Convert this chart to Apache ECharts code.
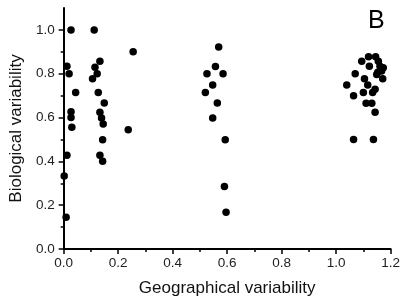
<!DOCTYPE html>
<html>
<head>
<meta charset="utf-8">
<script src="https://cdn.jsdelivr.net/npm/echarts@6/dist/echarts.min.js"></script>
<style>
  html, body { margin: 0; padding: 0; background: #fff; }
  #chart { width: 403px; height: 302px; }
</style>
</head>
<body>
<div id="chart"></div>
<script>
// geographical variability (x) and biological variability (y)
const geoVar = [
  0.027, 0.112, 0.255, 0.012, 0.133, 0.115, 0.020, 0.123, 0.106, 0.044,
  0.127, 0.149, 0.027, 0.133, 0.027, 0.139, 0.145, 0.030, 0.237, 0.143,
  0.012, 0.133, 0.143, 0.002, 0.009,
  0.569, 0.557, 0.526, 0.585, 0.547, 0.520, 0.564, 0.547, 0.593, 0.590, 0.596,
  1.094, 1.119, 1.122, 1.145, 1.155, 1.161, 1.173, 1.167, 1.153, 1.171,
  1.149, 1.070, 1.104, 1.039, 1.116, 1.143, 1.100, 1.134, 1.064, 1.110,
  1.131, 1.143, 1.064, 1.137
];
const bioVar = [
  1.000, 1.000, 0.900, 0.834, 0.857, 0.830, 0.800, 0.800, 0.777, 0.714,
  0.714, 0.666, 0.627, 0.624, 0.600, 0.598, 0.571, 0.556, 0.544, 0.499,
  0.428, 0.428, 0.400, 0.333, 0.145,
  0.922, 0.833, 0.800, 0.800, 0.749, 0.714, 0.666, 0.598, 0.499, 0.285, 0.168,
  0.857, 0.877, 0.834, 0.877, 0.857, 0.834, 0.827, 0.812, 0.807, 0.777,
  0.797, 0.800, 0.777, 0.749, 0.749, 0.729, 0.714, 0.714, 0.699, 0.665,
  0.665, 0.624, 0.500, 0.500
];
const yMajor = [0, 0.2, 0.4, 0.6, 0.8, 1.0];
const yMinor = [0.1, 0.3, 0.5, 0.7, 0.9];

const font = '"Liberation Sans", Arial, sans-serif';
const chart = echarts.init(document.getElementById('chart'));

chart.setOption({
  animation: false,
  title: {
    text: 'B',
    left: 368,
    top: 9,
    padding: 0,
    textStyle: { fontFamily: font, fontSize: 25, fontWeight: 'normal', color: '#000' }
  },
  grid: { left: 63, right: 10, top: 8, bottom: 50 },
  xAxis: {
    type: 'value',
    min: 0,
    max: 1.2,
    interval: 0.2,
    name: 'Geographical variability',
    nameLocation: 'middle',
    nameGap: 31,
    nameTextStyle: { fontFamily: font, fontSize: 17, color: '#111' },
    axisLine: { lineStyle: { color: '#000', width: 2 } },
    axisTick: { length: 5, lineStyle: { color: '#000', width: 1.5 } },
    minorTick: { show: true, splitNumber: 2, length: 3, lineStyle: { color: '#000', width: 1.5 } },
    splitLine: { show: false },
    axisLabel: {
      margin: 7, fontFamily: font, fontSize: 13.5, color: '#222',
      formatter: (v) => v.toFixed(1)
    }
  },
  yAxis: [
    {
      type: 'value',
      min: 0,
      max: 1.1,
      name: 'Biological variability',
      nameLocation: 'middle',
      nameGap: 36,
      nameTextStyle: { fontFamily: font, fontSize: 17, color: '#111' },
      axisLine: { lineStyle: { color: '#000', width: 2 } },
      axisTick: { length: 5, customValues: yMajor, lineStyle: { color: '#000', width: 1.5 } },
      splitLine: { show: false },
      axisLabel: {
        margin: 9, fontFamily: font, fontSize: 13.5, color: '#222',
        customValues: yMajor,
        formatter: (v) => v.toFixed(1)
      }
    },
    {
      type: 'value',
      position: 'left',
      min: 0,
      max: 1.1,
      axisLine: { show: false },
      axisTick: { length: 3, customValues: yMinor, lineStyle: { color: '#000', width: 1.5 } },
      axisLabel: { show: false },
      splitLine: { show: false }
    }
  ],
  series: [{
    type: 'scatter',
    symbolSize: 7.5,
    itemStyle: { color: '#000', opacity: 1 },
    data: geoVar.map((x, i) => [x, bioVar[i]])
  }]
});
</script>
</body>
</html>
